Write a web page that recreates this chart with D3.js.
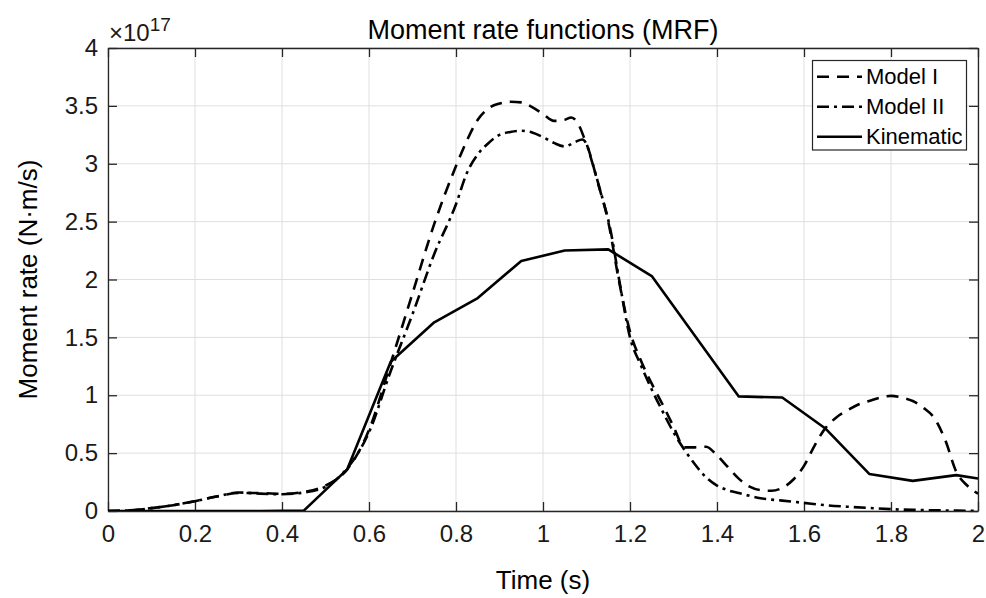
<!DOCTYPE html>
<html><head><meta charset="utf-8">
<script src="https://cdn.jsdelivr.net/npm/d3@7"></script>
<style>
body{margin:0;background:#fff;}
svg{display:block;font-family:"Liberation Sans",Arial,Helvetica,sans-serif;}
</style></head>
<body><svg id="chart" width="986" height="598"></svg>
<script>
// ---- data (values in units of 1e17 N·m/s) ----
const xTicks = [0,0.2,0.4,0.6,0.8,1,1.2,1.4,1.6,1.8,2];
const yTicks = [0,0.5,1,1.5,2,2.5,3,3.5,4];
const xTickLabels = ["0","0.2","0.4","0.6","0.8","1","1.2","1.4","1.6","1.8","2"];
const yTickLabels = ["0","0.5","1","1.5","2","2.5","3","3.5","4"];
const seriesNames = ["Model I","Model II","Kinematic"];

const modelI_t = [0,0.05,0.1,0.15,0.2,0.25,0.3,0.35,0.4,0.45,0.5,0.55,0.6,0.65,0.7,0.75,0.8,0.825,0.85,0.875,0.9,0.925,0.95,0.975,1.0,1.025,1.05,1.065,1.08,1.095,1.105,1.125,1.15,1.175,1.2,1.225,1.25,1.275,1.3,1.325,1.35,1.375,1.4,1.425,1.45,1.475,1.5,1.525,1.55,1.575,1.6,1.625,1.65,1.675,1.7,1.725,1.75,1.775,1.8,1.825,1.85,1.875,1.9,1.925,1.95,1.975,2.0];
const modelI_v = [0,0.005,0.025,0.05,0.085,0.125,0.155,0.155,0.148,0.165,0.22,0.36,0.70,1.28,1.88,2.48,2.98,3.2,3.38,3.48,3.52,3.535,3.53,3.49,3.43,3.37,3.38,3.40,3.35,3.22,3.12,2.85,2.5,1.98,1.55,1.3,1.1,0.92,0.73,0.55,0.55,0.555,0.48,0.38,0.28,0.21,0.18,0.175,0.20,0.27,0.39,0.57,0.72,0.81,0.87,0.92,0.95,0.98,0.995,0.98,0.95,0.89,0.80,0.61,0.34,0.22,0.15];

const modelII_t = [0,0.05,0.1,0.15,0.2,0.25,0.3,0.35,0.4,0.45,0.5,0.55,0.6,0.65,0.7,0.75,0.8,0.825,0.85,0.875,0.9,0.925,0.95,0.975,1.0,1.025,1.05,1.075,1.09,1.1,1.11,1.13,1.155,1.175,1.2,1.225,1.25,1.275,1.3,1.325,1.35,1.375,1.4,1.425,1.45,1.5,1.55,1.6,1.65,1.7,1.75,1.8,1.85,1.9,1.95,2.0];
const modelII_v = [0,0.005,0.025,0.05,0.085,0.125,0.16,0.15,0.145,0.16,0.21,0.37,0.68,1.21,1.70,2.22,2.65,2.92,3.08,3.18,3.25,3.275,3.285,3.27,3.23,3.18,3.15,3.19,3.21,3.17,3.05,2.79,2.43,2.0,1.5,1.26,1.05,0.86,0.68,0.53,0.40,0.29,0.22,0.18,0.155,0.11,0.09,0.07,0.05,0.037,0.026,0.016,0.01,0.006,0.003,0.002];

const kin_t = [0,0.05,0.15,0.25,0.35,0.45,0.55,0.65,0.75,0.85,0.95,1.05,1.15,1.25,1.35,1.45,1.55,1.65,1.75,1.85,1.95,2.0];
const kin_v = [0,0,0,0,0,0.003,0.36,1.29,1.63,1.84,2.16,2.25,2.26,2.03,1.51,0.99,0.98,0.71,0.32,0.26,0.31,0.28];

// ---- layout ----
const svg = d3.select("#chart");
const L = 108, R = 978, T = 48, B = 511;
const x = d3.scaleLinear().domain([0,2]).range([L,R]);
const y = d3.scaleLinear().domain([0,4]).range([B,T]);
const axisColor = "#262626";
const gridColor = "#dfdfdf";

// grid
const g = svg.append("g");
g.selectAll(".gx").data(xTicks).join("line")
  .attr("x1",d=>x(d)).attr("x2",d=>x(d)).attr("y1",T).attr("y2",B)
  .attr("stroke",gridColor).attr("stroke-width",1);
g.selectAll(".gy").data(yTicks).join("line")
  .attr("y1",d=>y(d)).attr("y2",d=>y(d)).attr("x1",L).attr("x2",R)
  .attr("stroke",gridColor).attr("stroke-width",1);

// axes (ticks inward, box on)
const tickLen = 9;
const fmtX = (d,i)=>xTickLabels[i], fmtY=(d,i)=>yTickLabels[i];
const ax = svg.append("g").attr("transform",`translate(0,${B})`)
  .call(d3.axisBottom(x).tickValues(xTicks).tickFormat(fmtX).tickSizeInner(-tickLen).tickSizeOuter(0).tickPadding(14));
const ay = svg.append("g").attr("transform",`translate(${L},0)`)
  .call(d3.axisLeft(y).tickValues(yTicks).tickFormat(fmtY).tickSizeInner(-tickLen).tickSizeOuter(0).tickPadding(10));
const axT = svg.append("g").attr("transform",`translate(0,${T})`)
  .call(d3.axisTop(x).tickValues(xTicks).tickFormat("").tickSizeInner(-tickLen).tickSizeOuter(0));
const ayR = svg.append("g").attr("transform",`translate(${R},0)`)
  .call(d3.axisRight(y).tickValues(yTicks).tickFormat("").tickSizeInner(-tickLen).tickSizeOuter(0));
[ax,ay,axT,ayR].forEach(a=>{
  a.selectAll("path").attr("stroke",axisColor).attr("stroke-width",1.3);
  a.selectAll("line").attr("stroke",axisColor).attr("stroke-width",1.3);
  a.selectAll("text").attr("fill","#1a1a1a").style("font-size","24px").style("font-family","Liberation Sans, Arial, sans-serif");
});
ax.selectAll("text").attr("dy","0.71em");

// lines
const mk = (ts,vs)=>ts.map((t,i)=>({t:t,v:vs[i]}));
const smooth = d3.line().x(d=>x(d.t)).y(d=>y(d.v)).curve(d3.curveMonotoneX);
const straight = d3.line().x(d=>x(d.t)).y(d=>y(d.v));
const clip = svg.append("clipPath").attr("id","clip").append("rect")
  .attr("x",L).attr("y",T).attr("width",R-L).attr("height",B-T);
const lines = svg.append("g").attr("clip-path","url(#clip)");
const styles = [
  {data:mk(modelI_t,modelI_v), gen:smooth, dash:"12,8"},
  {data:mk(modelII_t,modelII_v), gen:smooth, dash:"12,5,3,5"},
  {data:mk(kin_t,kin_v), gen:straight, dash:null}
];
styles.forEach(s=>{
  const p = lines.append("path").attr("d",s.gen(s.data))
    .attr("fill","none").attr("stroke","#000").attr("stroke-width",2.6)
    .attr("stroke-linejoin","round");
  if (s.dash) p.attr("stroke-dasharray",s.dash);
});

// title and labels
svg.append("text").attr("x",(L+R)/2).attr("y",39).attr("text-anchor","middle")
  .style("font-size","27px").attr("fill","#000").text("Moment rate functions (MRF)");
svg.append("text").attr("x",(L+R)/2).attr("y",589).attr("text-anchor","middle")
  .style("font-size","26px").attr("fill","#000").text("Time (s)");
svg.append("text").attr("transform",`translate(37,${(T+B)/2}) rotate(-90)`).attr("text-anchor","middle")
  .style("font-size","26px").attr("fill","#000").text("Moment rate (N·m/s)");
const ex = svg.append("text").attr("x",109).attr("y",41).style("font-size","24px").attr("fill","#1a1a1a");
ex.append("tspan").text("×10");
ex.append("tspan").attr("dy","-10").style("font-size","19px").text("17");

// legend
const lg = svg.append("g");
lg.append("rect").attr("x",812.5).attr("y",60.5).attr("width",154).attr("height",89.5)
  .attr("fill","#fff").attr("stroke","#262626").attr("stroke-width",1.2);
const rowsY = [76.7,106.7,136.7];
seriesNames.forEach((n,i)=>{
  const l = lg.append("line").attr("x1",817).attr("x2",862).attr("y1",rowsY[i]).attr("y2",rowsY[i])
    .attr("stroke","#000").attr("stroke-width",2.6);
  if (styles[i].dash) l.attr("stroke-dasharray", i===0 ? "12,8" : "12,5,3,5");
  lg.append("text").attr("x",866).attr("y",rowsY[i]).attr("dy","0.35em")
    .style("font-size","22px").attr("fill","#000").text(n);
});
</script></body></html>
